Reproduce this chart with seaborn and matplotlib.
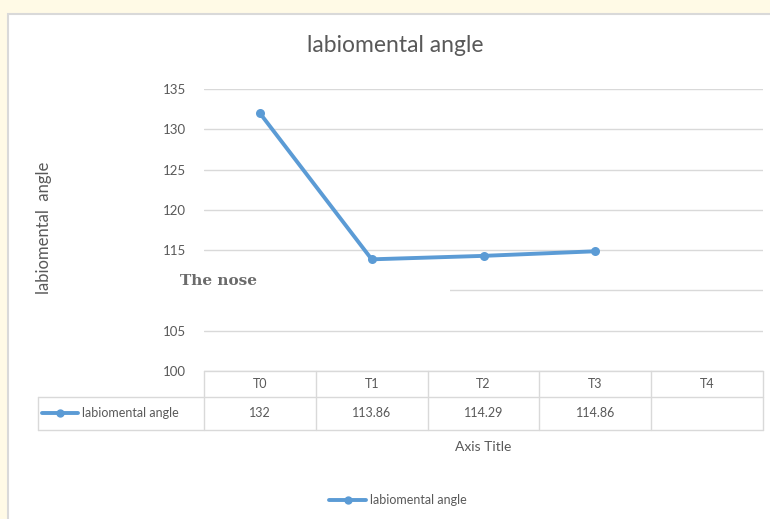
import seaborn as sns
import matplotlib.pyplot as plt
import matplotlib.transforms as mtransforms
from matplotlib.patches import Rectangle
from matplotlib.lines import Line2D
import pandas as pd

# data
phases = ["T0", "T1", "T2", "T3", "T4"]
angle = [132, 113.86, 114.29, 114.86]
angle_labels = ["132", "113.86", "114.29", "114.86", ""]
yticks = [100, 105, 110, 115, 120, 125, 130, 135]
series_name = "labiomental angle"

BLUE = "#5b9bd5"
GREY_TXT = "#595959"
GRID = "#d9d9d9"

sns.set_theme(style="white")
plt.rcParams["font.family"] = ["Lato", "DejaVu Sans"]

W, H = 770, 519
def fx(px):
    return px / W
def fy(py):
    return 1 - py / H

fig = plt.figure(figsize=(7.7, 5.19), dpi=100, facecolor="#fffae6")

# white chart area with a light border (runs off the right and bottom edges)
fig.add_artist(Rectangle((fx(8), fy(530)), fx(790) - fx(8), fy(14) - fy(530),
                         transform=fig.transFigure, facecolor="white",
                         edgecolor="#d9d9d9", lw=1.5, zorder=-1))

ax = fig.add_axes([fx(204), fy(371), fx(763) - fx(204), fy(89) - fy(371)])
ax.set_facecolor("none")

df = pd.DataFrame({"phase": phases[:len(angle)], "angle": angle})
df["pos"] = df["phase"].map({p: i for i, p in enumerate(phases)})

sns.lineplot(data=df, x="pos", y="angle", color=BLUE, linewidth=2.8,
             marker="o", markersize=6.5, markeredgewidth=0, ax=ax, legend=False)

ax.set_xlim(-0.5, len(phases) - 0.5)
ax.set_ylim(100, 135)
ax.set_yticks(yticks)
ax.set_xticks([])
ax.set_xlabel("")
ax.set_ylabel("")
ax.grid(axis="y", color=GRID, lw=1)
for s in ax.spines.values():
    s.set_visible(False)
ax.tick_params(axis="y", length=0, pad=13, labelsize=9.5, labelcolor=GREY_TXT)

# data table under the axis
tr = mtransforms.blended_transform_factory(ax.transData, fig.transFigure)
for i in range(len(phases) + 1):
    ax.add_line(Line2D([i - 0.5, i - 0.5], [fy(371), fy(430)], transform=tr,
                       color=GRID, lw=1, clip_on=False))
fig.add_artist(Line2D([fx(204), fx(763)], [fy(371), fy(371)], color=GRID, lw=1))
for py in [397, 430]:
    fig.add_artist(Line2D([fx(38), fx(763)], [fy(py), fy(py)], color=GRID, lw=1))
fig.add_artist(Line2D([fx(38), fx(38)], [fy(397), fy(430)], color=GRID, lw=1))

for i, (p, v) in enumerate(zip(phases, angle_labels)):
    ax.text(i, fy(384), p, transform=tr, ha="center", va="center",
            fontsize=9, color=GREY_TXT)
    ax.text(i, fy(413), v, transform=tr, ha="center", va="center",
            fontsize=9, color=GREY_TXT)

fig.add_artist(Line2D([fx(42), fx(60), fx(78)], [fy(413)] * 3, color=BLUE, lw=2.8,
                      marker="o", markersize=6, markeredgewidth=0, markevery=[1]))
fig.text(fx(82), fy(413), series_name, ha="left", va="center", fontsize=9, color=GREY_TXT)

# titles
fig.text(fx(395), fy(45), "labiomental angle", ha="center", va="center",
         fontsize=16.5, color=GREY_TXT)
fig.text(fx(44), fy(228), "labiomental  angle", rotation=90, ha="center", va="center",
         fontsize=12, color=GREY_TXT)
fig.text(fx(483), fy(447), "Axis Title", ha="center", va="center",
         fontsize=10, color=GREY_TXT)

# "The nose" box covering part of the grid
fig.add_artist(Rectangle((fx(145), fy(300)), fx(450) - fx(145), fy(266) - fy(300),
                         transform=fig.transFigure, facecolor="white",
                         edgecolor="none", zorder=3))
fig.text(fx(180), fy(281), "The nose", ha="left", va="center", fontsize=11,
         fontweight="bold", family="DejaVu Serif", color="#6b6b6b", zorder=4)

handle = Line2D([], [], color=BLUE, lw=2.8, marker="o", markersize=6, markeredgewidth=0)
fig.legend([handle], [series_name], loc="center", bbox_to_anchor=(fx(398), fy(500)),
           frameon=False, fontsize=9, labelcolor=GREY_TXT, handlelength=3,
           handletextpad=0.3)

plt.savefig("out.png", dpi=100, facecolor=fig.get_facecolor())
